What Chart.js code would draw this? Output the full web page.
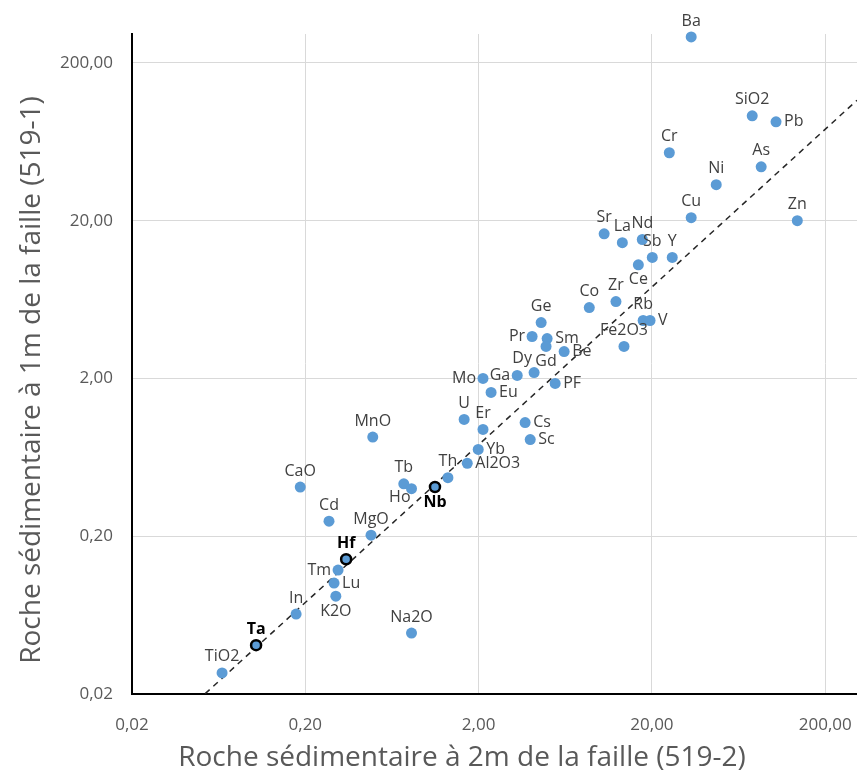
<!DOCTYPE html>
<html lang="fr">
<head>
<meta charset="utf-8">
<title>Roche sédimentaire 519-1 / 519-2</title>
<script src="https://cdn.jsdelivr.net/npm/chart.js@4.4.1/dist/chart.umd.min.js"></script>
<style>
  html, body { margin: 0; padding: 0; background: #fff; }
  #wrap { width: 857px; height: 775px; }
</style>
</head>
<body>
<div id="wrap"><canvas id="grafico"></canvas></div>
<script>
// éléments analysés
const elements = ['Ba', 'SiO2', 'Pb', 'Cr', 'As', 'Ni', 'Cu', 'Zn', 'Sr', 'La', 'Nd', 'Sb', 'Y', 'Ce', 'Co', 'Zr', 'Rb', 'V', 'Fe2O3', 'Ge',
  'Pr', 'Sm', 'Gd', 'Be', 'Dy', 'Ga', 'Mo', 'PF', 'Eu', 'U', 'Er', 'Cs', 'Sc', 'MnO', 'Yb', 'Al2O3', 'Th', 'Tb', 'Ho', 'Nb',
  'CaO', 'Cd', 'MgO', 'Hf', 'Tm', 'Lu', 'K2O', 'In', 'Na2O', 'Ta', 'TiO2'];

// roche à 2m de la faille (519-2) -> axe x
const roche2m = [33.7, 75.8, 104, 25.2, 85.4, 47.0, 33.7, 138, 10.6, 13.5, 17.6, 20.1, 26.2, 16.7, 8.7, 12.4, 17.8, 19.5, 13.8, 4.59,
  4.07, 4.97, 4.90, 6.23, 4.18, 3.34, 2.12, 5.53, 2.36, 1.65, 2.12, 3.71, 3.97, 0.49, 1.99, 1.72, 1.33, 0.74, 0.82, 1.12,
  0.187, 0.274, 0.479, 0.344, 0.309, 0.293, 0.30, 0.177, 0.82, 0.104, 0.0662];

// roche à 1m de la faille (519-1) -> axe y
const roche1m = [292, 92.4, 84.6, 53.9, 43.9, 33.8, 20.9, 20.0, 16.5, 14.5, 15.2, 11.7, 11.7, 10.5, 5.63, 6.14, 4.66, 4.66, 3.19, 4.52,
  3.69, 3.58, 3.19, 2.96, 2.18, 2.09, 2.0, 1.86, 1.63, 1.10, 0.95, 1.05, 0.82, 0.85, 0.71, 0.58, 0.47, 0.43, 0.40, 0.41,
  0.41, 0.249, 0.203, 0.143, 0.122, 0.101, 0.0834, 0.0642, 0.0487, 0.0408, 0.0272];

// éléments immobiles (cerclés en noir)
const immobiles = ['Nb', 'Hf', 'Ta'];

// pente de l'isocon (y = pente * x)
const penteIsocon = 0.38;

const ticksX = [0.02, 0.2, 2, 20, 200];
const ticksY = [0.02, 0.2, 2, 20, 200];
const minAxe = 0.02;
const maxAxe = 305;

// où poser l'étiquette de chaque point
const placement = ['above', 'above', 'right', 'above', 'above', 'above', 'above', 'above', 'above', 'above', 'above', 'above', 'above', 'below', 'above', 'above', 'above', 'right', 'above', 'above',
  'left', 'right', 'below', 'right', 'aboveLeft', 'left', 'left', 'right', 'right', 'above', 'above', 'right', 'right', 'above', 'right', 'right', 'above', 'above', 'belowLeft', 'below',
  'above', 'above', 'above', 'above', 'left', 'right', 'below', 'above', 'above', 'above', 'above'];

const titreX = 'Roche sédimentaire à 2m de la faille (519-2)';
const titreY = 'Roche sédimentaire à 1m de la faille (519-1)';

const police = '"Open Sans", "DejaVu Sans", sans-serif';
const bleu = '#5B9BD5';

function format(v) {
  return Number(v).toFixed(2).replace('.', ',');
}

function points(filtre) {
  const idx = elements.map((e, i) => i).filter(filtre);
  return {
    data: idx.map(i => ({ x: roche2m[i], y: roche1m[i] })),
    noms: idx.map(i => elements[i]),
    places: idx.map(i => placement[i])
  };
}

const normaux = points(i => !immobiles.includes(elements[i]));
const cercles = points(i => immobiles.includes(elements[i]));

// étiquettes des points
const etiquettes = {
  id: 'etiquettes',
  afterDatasetsDraw(chart) {
    const ctx = chart.ctx;
    ctx.save();
    ctx.textBaseline = 'middle';
    chart.data.datasets.forEach((ds, di) => {
      if (!ds.noms) return;
      const meta = chart.getDatasetMeta(di);
      ctx.font = (ds.gras ? 'bold ' : '') + '16px ' + police;
      ctx.fillStyle = ds.gras ? '#000' : '#404040';
      meta.data.forEach((pt, i) => {
        let x = pt.x, y = pt.y;
        switch (ds.places[i]) {
          case 'above': ctx.textAlign = 'center'; y -= 16; break;
          case 'below': ctx.textAlign = 'center'; y += 15; break;
          case 'left': ctx.textAlign = 'right'; x -= 7; break;
          case 'right': ctx.textAlign = 'left'; x += 8; break;
          case 'aboveLeft': ctx.textAlign = 'center'; x -= 12; y -= 14; break;
          case 'belowLeft': ctx.textAlign = 'right'; x -= 1; y += 9; break;
        }
        ctx.fillText(ds.noms[i], x, y);
      });
    });
    ctx.restore();
  }
};

function texteAjuste(ctx, txt, x, y, largeur) {
  const k = Math.min(1, largeur / ctx.measureText(txt).width);
  ctx.save();
  ctx.translate(x, y);
  ctx.scale(k, 1);
  ctx.textAlign = 'center';
  ctx.fillText(txt, 0, 0);
  ctx.restore();
}

// titres des axes
const titres = {
  id: 'titres',
  afterDraw(chart) {
    const ctx = chart.ctx;
    ctx.save();
    ctx.fillStyle = '#595959';
    ctx.font = '28px ' + police;
    ctx.textBaseline = 'alphabetic';
    texteAjuste(ctx, titreX, 462, 766, 575);
    ctx.translate(40, 380);
    ctx.rotate(-Math.PI / 2);
    texteAjuste(ctx, titreY, 0, 0, 575);
    ctx.restore();
  }
};

const ctx = document.getElementById('grafico').getContext('2d');
const myChart = new Chart(ctx, {
  type: 'scatter',
  data: {
    datasets: [{
      label: 'Immobiles',
      data: cercles.data,
      noms: cercles.noms,
      places: cercles.places,
      gras: true,
      pointRadius: 5,
      pointBorderWidth: 2.5,
      pointBorderColor: '#000',
      pointBackgroundColor: bleu,
      clip: false,
      order: 0
    }, {
      label: 'Éléments',
      data: normaux.data,
      noms: normaux.noms,
      places: normaux.places,
      pointRadius: 5.5,
      pointBorderWidth: 0,
      pointBackgroundColor: bleu,
      clip: false,
      order: 1
    }, {
      label: 'Isocon',
      type: 'line',
      data: [minAxe, maxAxe].map(x => ({ x: x, y: x * penteIsocon })),
      borderColor: '#262626',
      borderWidth: 1.5,
      borderDash: [6, 5],
      pointRadius: 0,
      fill: false,
      order: 2
    }]
  },
  options: {
    responsive: true,
    maintainAspectRatio: false,
    animation: false,
    layout: { autoPadding: false, padding: { top: 34, right: 0, left: 0, bottom: 0 } },
    plugins: {
      legend: { display: false },
      tooltip: { enabled: false }
    },
    scales: {
      x: {
        type: 'logarithmic',
        min: minAxe,
        max: maxAxe,
        afterBuildTicks: s => { s.ticks = ticksX.map(v => ({ value: v })); },
        afterFit: s => { s.height = 81; s.paddingLeft = 0; s.paddingRight = 0; },
        grid: { color: '#d9d9d9', lineWidth: 1, drawTicks: false },
        border: { color: '#000', width: 2 },
        ticks: { padding: 21, color: '#595959', font: { family: police, size: 17 }, autoSkip: false, maxRotation: 0, callback: v => format(v) }
      },
      y: {
        type: 'logarithmic',
        min: minAxe,
        max: maxAxe,
        afterBuildTicks: s => { s.ticks = ticksY.map(v => ({ value: v })); },
        afterFit: s => { s.width = 132; s.paddingTop = 0; s.paddingBottom = 0; },
        grid: { color: '#d9d9d9', lineWidth: 1, drawTicks: false },
        border: { color: '#000', width: 2 },
        ticks: { padding: 19, color: '#595959', font: { family: police, size: 17 }, autoSkip: false, callback: v => format(v) }
      }
    }
  },
  plugins: [etiquettes, titres]
});
</script>
</body>
</html>
